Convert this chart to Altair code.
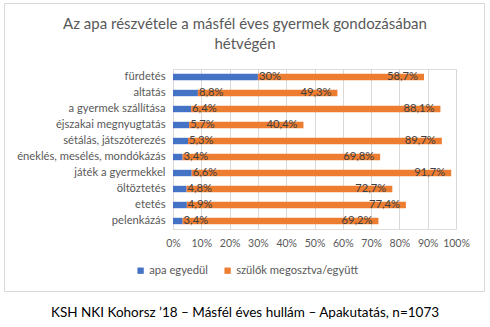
import altair as alt
import pandas as pd

categories = ["fürdetés", "altatás", "a gyermek szállítása", "éjszakai megnyugtatás",
              "sétálás, játszóterezés", "éneklés, mesélés, mondókázás", "játék a gyermekkel",
              "öltöztetés", "etetés", "pelenkázás"]
apa_egyedul = [30, 8.8, 6.4, 5.7, 5.3, 3.4, 6.6, 4.8, 4.9, 3.4]
szulok_egyutt = [58.7, 49.3, 88.1, 40.4, 89.7, 69.8, 91.7, 72.7, 77.4, 69.2]
series_names = ["apa egyedül", "szülők megosztva/együtt"]
series_colors = ["#4472C4", "#ED7D31"]
x_ticks = [0, 10, 20, 30, 40, 50, 60, 70, 80, 90, 100]
title_lines = ["Az apa részvétele a másfél éves gyermek gondozásában", "hétvégén"]
caption_text = "KSH NKI Kohorsz ’18 – Másfél éves hullám – Apakutatás, n=1073"

FONT = "Lato"

def fmt(v):
    return f"{v:g}".replace(".", ",") + "%"

rows = []
for c, a, s in zip(categories, apa_egyedul, szulok_egyutt):
    rows.append({"category": c, "series": series_names[0], "value": a, "ord": 0, "label": fmt(a)})
    rows.append({"category": c, "series": series_names[1], "value": s, "ord": 1, "label": fmt(s)})
df = pd.DataFrame(rows)

W, H = 283, 160
PL, PT = 173, 69

base = alt.Chart(df)

yaxis = alt.Axis(domain=False, ticks=False, labelPadding=8, labelFontSize=11.2,
                 labelColor="#595959", labelFont=FONT)
yscale = alt.Scale(paddingInner=0.6, paddingOuter=0.3)
xaxis = alt.Axis(values=x_ticks, labelExpr="datum.value + '%'", domain=False,
                 ticks=False, grid=True, gridColor="#d9d9d9", labelPadding=9, labelFontSize=10.5,
                 labelOverlap=False, labelFlush=False, labelColor="#595959", labelFont=FONT)
xscale = alt.Scale(domain=[0, 100], nice=False)

bars = base.mark_bar().encode(
    x=alt.X("value:Q", stack="zero", title=None, scale=xscale, axis=xaxis),
    y=alt.Y("category:N", sort=categories, title=None, scale=yscale, axis=yaxis),
    color=alt.Color("series:N", scale=alt.Scale(domain=series_names, range=series_colors),
                    legend=alt.Legend(title=None, orient="none", direction="horizontal",
                                      legendX=-38, legendY=196, symbolType="square",
                                      symbolSize=40, symbolStrokeWidth=0, labelFontSize=11.2,
                                      labelColor="#595959", labelFont=FONT, columnPadding=14,
                                      symbolOffset=0, labelOffset=3)),
    order=alt.Order("ord:Q"),
)

blue_lbl = base.transform_filter(alt.datum.ord == 0).mark_text(
    align="left", baseline="middle", dx=1, fontSize=11.2, color="#404040", font=FONT
).encode(x=alt.X("value:Q", title=None, scale=xscale, axis=xaxis),
         y=alt.Y("category:N", sort=categories, title=None, scale=yscale, axis=yaxis),
         text="label:N")

orange_lbl = base.transform_joinaggregate(total="sum(value)", groupby=["category"]).transform_filter(
    alt.datum.ord == 1).mark_text(
    align="right", baseline="middle", dx=-6, fontSize=11.2, color="#404040", font=FONT
).encode(x=alt.X("total:Q", title=None, scale=xscale, axis=xaxis),
         y=alt.Y("category:N", sort=categories, title=None, scale=yscale, axis=yaxis),
         text="label:N")

deco = alt.Chart(alt.Data(values=[{}]))
border = deco.mark_rect(fill=None, stroke="#d9d9d9", strokeWidth=1).encode(
    x=alt.value(4 - PL + 0.5), x2=alt.value(484 - PL + 0.5),
    y=alt.value(3 - PT + 0.5), y2=alt.value(291 - PT + 0.5))
caption = deco.mark_text(fontSize=13.5, color="#000000", font=FONT, align="center",
                         baseline="middle").encode(
    x=alt.value(245 - PL), y=alt.value(313 - PT), text=alt.value(caption_text))
title1 = deco.mark_text(fontSize=15, color="#595959", font=FONT, align="center",
                        baseline="middle").encode(
    x=alt.value(245 - PL), y=alt.value(24 - PT), text=alt.value(title_lines[0]))
title2 = deco.mark_text(fontSize=15, color="#595959", font=FONT, align="center",
                        baseline="middle").encode(
    x=alt.value(245 - PL), y=alt.value(44 - PT), text=alt.value(title_lines[1]))

chart = alt.layer(border, bars, blue_lbl, orange_lbl, caption, title1, title2).properties(
    width=W, height=H,
    autosize=alt.AutoSizeParams(type="none"),
    padding={"left": PL, "top": PT, "right": 490 - PL - W, "bottom": 327 - PT - H},
).configure_view(stroke=None).configure(background="white")

chart.save("out.html", embed_options={"renderer": "svg", "actions": False})
